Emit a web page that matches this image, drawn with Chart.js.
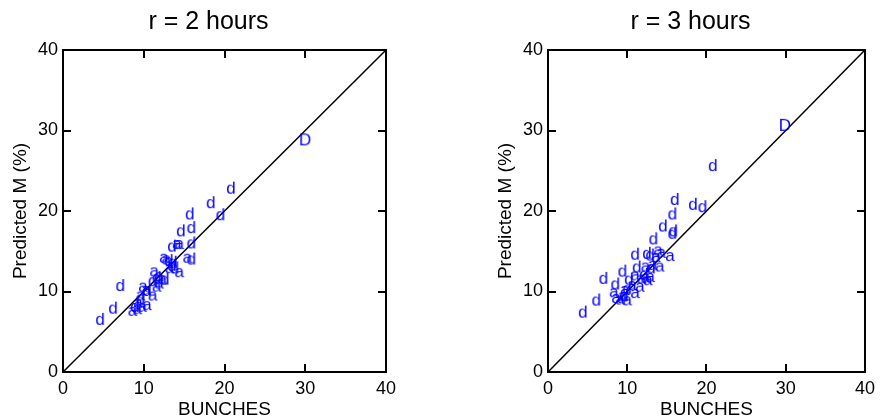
<!DOCTYPE html>
<html>
<head>
<meta charset="utf-8">
<script src="https://cdn.jsdelivr.net/npm/chart.js"></script>
<style>
  body { margin: 0; background: #fff; }
  #wrap { position: relative; width: 881px; height: 420px; }
  canvas { position: absolute; top: 0; }
</style>
</head>
<body>
<div id="wrap">
  <canvas id="chartLeft" width="440" height="420" style="left:0"></canvas>
  <canvas id="chartRight" width="396" height="420" style="left:485px"></canvas>
</div>
<script>
// r = 2 hours
const r2dX = [4.6, 6.2, 7.1, 8.9, 9.6, 10.4, 11.1, 11.6, 12.6, 13.1, 13.5, 13.8, 13.5, 13.6, 15.9, 15.9, 14.6, 15.9, 15.7, 19.5, 18.3, 20.8];
const r2dY = [6.6, 8.0, 10.8, 8.2, 9.0, 10.2, 11.4, 11.8, 11.6, 13.9, 13.3, 13.0, 15.7, 13.7, 14.1, 16.1, 17.6, 18.0, 19.7, 19.6, 21.1, 22.9];
const r2aX = [8.6, 9.2, 9.8, 10.4, 9.3, 9.6, 9.9, 10.3, 11.1, 11.6, 11.9, 11.3, 11.9, 12.3, 12.5, 12.8, 14.4, 13.2, 14.1, 14.4, 15.4];
const r2aY = [7.6, 7.8, 8.1, 8.3, 8.6, 9.5, 10.6, 10.2, 9.5, 10.6, 11.0, 12.5, 11.9, 11.5, 14.2, 14.0, 12.4, 12.9, 15.9, 15.9, 14.2];
const r2DX = [30.0];
const r2DY = [28.9];

// r = 3 hours
const r3dX = [4.4, 6.1, 7.0, 8.5, 9.4, 10.2, 11.0, 11.2, 12.5, 12.9, 13.3, 14.5, 15.8, 15.7, 15.7, 16.0, 18.3, 19.5, 20.8, 9.6, 10.0, 12.1, 13.0];
const r3dY = [7.5, 9.0, 11.7, 11.0, 12.6, 11.6, 14.7, 13.1, 14.8, 14.6, 16.6, 18.2, 17.6, 17.3, 19.7, 21.5, 20.9, 20.6, 25.7, 9.6, 10.4, 12.2, 13.0];
const r3aX = [8.3, 8.6, 9.1, 9.4, 10.0, 9.7, 11.0, 11.0, 11.8, 12.3, 12.6, 12.9, 11.6, 12.3, 13.2, 14.1, 13.9, 14.3, 15.4, 13.6, 10.6];
const r3aY = [9.9, 9.2, 9.0, 9.4, 8.9, 10.2, 9.8, 12.0, 11.6, 11.7, 11.4, 11.8, 10.6, 13.1, 13.3, 13.1, 15.1, 14.8, 14.4, 14.3, 10.8];
const r3DX = [29.9];
const r3DY = [30.7];

const diagX = [0, 40];
const diagY = [0, 40];
const tickValues = [0, 10, 20, 30, 40];

const FONT = '"Liberation Sans", Arial, Helvetica, sans-serif';
const BLUE = '#0000ff';

function pts(xs, ys) {
    return xs.map((x, i) => ({ x: x, y: ys[i] }));
}

// small canvas with the letter centred, used as a point style
function letterImage(ch) {
    const c = document.createElement('canvas');
    c.width = 22; c.height = 22;
    const g = c.getContext('2d');
    g.font = '17px ' + FONT;
    g.fillStyle = BLUE;
    g.textAlign = 'center';
    g.textBaseline = 'alphabetic';
    const m = g.measureText(ch);
    const h = m.actualBoundingBoxAscent + m.actualBoundingBoxDescent;
    g.fillText(ch, 11, 11 + h / 2 - m.actualBoundingBoxDescent);
    return c;
}
const imgD = letterImage('d');
const imgA = letterImage('a');
const imgBigD = letterImage('D');

// frame, inward ticks on all four sides and the panel title
const framePlugin = {
    id: 'frame',
    afterDraw(chart, args, opts) {
        const { ctx, chartArea: a, scales: { x, y } } = chart;
        ctx.save();
        ctx.strokeStyle = '#000';
        ctx.lineWidth = 2;
        ctx.strokeRect(a.left, a.top, a.right - a.left, a.bottom - a.top);
        ctx.beginPath();
        x.ticks.forEach(t => {
            const px = Math.round(x.getPixelForValue(t.value));
            ctx.moveTo(px, a.bottom); ctx.lineTo(px, a.bottom - 8);
            ctx.moveTo(px, a.top); ctx.lineTo(px, a.top + 8);
        });
        y.ticks.forEach(t => {
            const py = Math.round(y.getPixelForValue(t.value));
            ctx.moveTo(a.left, py); ctx.lineTo(a.left + 8, py);
            ctx.moveTo(a.right, py); ctx.lineTo(a.right - 8, py);
        });
        ctx.stroke();

        ctx.fillStyle = '#000';
        ctx.font = '25px ' + FONT;
        ctx.textAlign = 'center';
        ctx.textBaseline = 'alphabetic';
        ctx.fillText(opts.text, (a.left + a.right) / 2 + opts.shift, 29);
        ctx.restore();
    }
};

function makeChart(id, dX, dY, aX, aY, DX, DY, title, padRight) {
    const ctx = document.getElementById(id).getContext('2d');
    return new Chart(ctx, {
        type: 'scatter',
        data: {
            datasets: [
                { label: 'D', data: pts(DX, DY), pointStyle: imgBigD, pointRadius: 10 },
                { label: 'd', data: pts(dX, dY), pointStyle: imgD, pointRadius: 10 },
                { label: 'a', data: pts(aX, aY), pointStyle: imgA, pointRadius: 10 },
                {
                    label: 'diag', data: pts(diagX, diagY), showLine: true,
                    borderColor: '#000', borderWidth: 1.5, pointRadius: 0
                }
            ]
        },
        options: {
            responsive: false,
            animation: false,
            events: [],
            layout: { padding: { left: 0, right: padRight, top: 50, bottom: 0 } },
            plugins: {
                legend: { display: false },
                tooltip: { enabled: false },
                frame: { text: title, shift: -16 }
            },
            scales: {
                x: {
                    type: 'linear', min: 0, max: 40,
                    afterBuildTicks: s => { s.ticks = tickValues.map(v => ({ value: v })); },
                    grid: { display: false, drawTicks: false, tickLength: 0 },
                    border: { display: false },
                    ticks: { color: '#000', font: { family: FONT, size: 18 }, padding: 6, maxRotation: 0 },
                    title: { display: true, text: 'BUNCHES', color: '#000', font: { family: FONT, size: 19 }, padding: { top: 0, bottom: -1 } },
                    afterFit: s => { s.height = 48; }
                },
                y: {
                    type: 'linear', min: 0, max: 40,
                    afterBuildTicks: s => { s.ticks = tickValues.map(v => ({ value: v })); },
                    grid: { display: false, drawTicks: false, tickLength: 0 },
                    border: { display: false },
                    ticks: { color: '#000', font: { family: FONT, size: 18 }, padding: 5 },
                    title: { display: true, text: 'Predicted M (%)', color: '#000', font: { family: FONT, size: 19 }, padding: { top: 9, bottom: 0 } },
                    afterFit: s => { s.width = 63; }
                }
            }
        },
        plugins: [framePlugin]
    });
}

makeChart('chartLeft', r2dX, r2dY, r2aX, r2aY, r2DX, r2DY, 'r = 2 hours', 54);
makeChart('chartRight', r3dX, r3dY, r3aX, r3aY, r3DX, r3DY, 'r = 3 hours', 11);
</script>
</body>
</html>
